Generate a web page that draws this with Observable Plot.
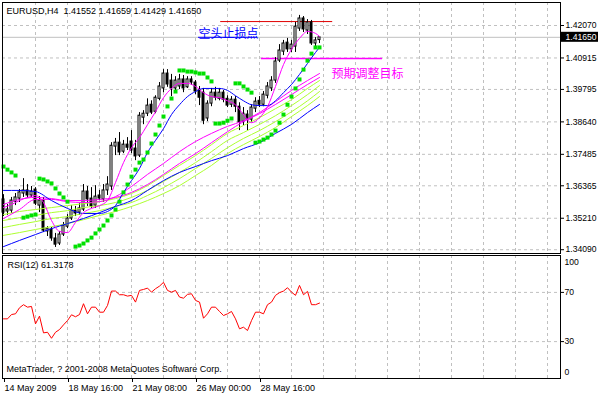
<!DOCTYPE html>
<html><head><meta charset="utf-8">
<script src="https://cdn.jsdelivr.net/npm/d3@7"></script>
<script src="https://cdn.jsdelivr.net/npm/@observablehq/plot@0.6"></script>
<style>
html,body{margin:0;padding:0;background:#fff;}
#wrap{width:598px;height:395px;overflow:hidden;background:#fff;}
#wrap svg{display:block;}
</style></head><body><div id="wrap"></div>
<script>
// ---------- data ----------
const header = "EURUSD,H4\u00a0\u00a01.41552 1.41659 1.41429 1.41650";
const rsiLabel = "RSI(12) 61.3178";
const copyright = "MetaTrader, ? 2001-2008 MetaQuotes Software Corp.";

const barOpen = [1.3588,1.3545,1.3548,1.3580,1.3591,1.3609,1.3620,1.3602,1.3623,1.3566,
1.3584,1.3474,1.3481,1.3449,1.3431,1.3463,1.3491,1.3520,1.3548,1.3541,
1.3552,1.3616,1.3591,1.3566,1.3602,1.3588,1.3620,1.3634,1.3776,1.3790,
1.3758,1.3783,1.3794,1.3769,1.3744,1.3879,1.3893,1.3925,1.3900,1.3946,
1.3983,1.4036,1.4011,1.3983,1.3990,1.4015,1.3987,1.4015,1.4004,1.3976,
1.3968,1.3876,1.3929,1.3968,1.3946,1.3968,1.3946,1.3925,1.3943,1.3918,
1.3865,1.3890,1.3872,1.3911,1.3939,1.3925,1.3957,1.3983,1.4011,1.4082,
1.4114,1.4146,1.4122,1.4132,1.4196,1.4232,1.4189,1.4218,1.4143,1.41552];
const barHigh = [1.3605,1.3570,1.3595,1.3609,1.3623,1.3662,1.3641,1.3634,1.3630,1.3598,
1.3595,1.3491,1.3488,1.3467,1.3474,1.3506,1.3534,1.3566,1.3563,1.3573,
1.3641,1.3634,1.3630,1.3637,1.3620,1.3641,1.3669,1.3790,1.3805,1.3826,
1.3798,1.3808,1.3833,1.3798,1.3897,1.3904,1.3946,1.3939,1.3957,1.4004,
1.4050,1.4050,1.4033,1.4025,1.4033,1.4029,1.4025,1.4025,1.4011,1.3990,
1.3983,1.3939,1.3983,1.3987,1.3983,1.3976,1.3957,1.3954,1.3954,1.3932,
1.3915,1.3904,1.3925,1.3950,1.3954,1.3972,1.4004,1.4025,1.4093,1.4139,
1.4154,1.4161,1.4154,1.4218,1.4243,1.4239,1.4228,1.4225,1.4164,1.41659];
const barLow = [1.3527,1.3531,1.3538,1.3566,1.3577,1.3595,1.3591,1.3595,1.3566,1.3541,
1.3470,1.3456,1.3439,1.3417,1.3424,1.3456,1.3484,1.3513,1.3527,1.3531,
1.3545,1.3563,1.3556,1.3556,1.3584,1.3577,1.3602,1.3620,1.3744,1.3744,
1.3751,1.3762,1.3751,1.3726,1.3737,1.3854,1.3883,1.3890,1.3893,1.3939,
1.3968,1.3987,1.3954,1.3972,1.3979,1.3968,1.3983,1.3994,1.3961,1.3922,
1.3854,1.3865,1.3918,1.3939,1.3939,1.3932,1.3915,1.3915,1.3897,1.3833,
1.3851,1.3833,1.3861,1.3897,1.3915,1.3918,1.3946,1.3972,1.4001,1.4075,
1.4100,1.4111,1.4111,1.4111,1.4186,1.4182,1.4175,1.4136,1.4132,1.41429];
const barClose = [1.3541,1.3552,1.3584,1.3595,1.3613,1.3620,1.3602,1.3616,1.3573,1.3584,
1.3477,1.3484,1.3449,1.3427,1.3463,1.3495,1.3520,1.3548,1.3538,1.3556,
1.3616,1.3588,1.3563,1.3598,1.3591,1.3620,1.3641,1.3779,1.3790,1.3755,
1.3783,1.3772,1.3762,1.3741,1.3886,1.3893,1.3922,1.3897,1.3950,1.3990,
1.4036,1.3997,1.3983,1.4011,1.4015,1.3983,1.4015,1.4004,1.3972,1.3950,
1.3868,1.3929,1.3968,1.3950,1.3968,1.3943,1.3922,1.3943,1.3918,1.3861,
1.3893,1.3872,1.3915,1.3936,1.3925,1.3961,1.3990,1.4011,1.4079,1.4118,
1.4143,1.4122,1.4139,1.4203,1.4232,1.4193,1.4218,1.4143,1.4154,1.41650];

// moving averages, sampled at bar indices
const fastMagBars = [0,2,4,6,8,10,12,14,16,18,20,22,24,26,28,30,32,34,36,38,40,42,44,46,48,50,52,54,56,58,60,62,64,66,68,70,72,74,76,78,79];
const fastMag = [1.3559,1.3570,1.3584,1.3595,1.3602,1.3577,1.3513,1.3474,1.3470,1.3506,1.3541,1.3556,1.3566,1.3584,1.3648,1.3719,1.3772,1.3808,1.3854,1.3900,1.3950,1.3983,1.4001,1.4001,1.3990,1.3968,1.3954,1.3950,1.3939,1.3925,1.3890,1.3861,1.3879,1.3918,1.3990,1.4068,1.4122,1.4161,1.4186,1.4179,1.4168];
const blueMedBars = [0,4,8,12,16,20,24,26,28,30,32,34,36,38,40,42,44,46,48,50,52,54,56,58,60,62,64,66,68,70,72,74,76,78,79];
const blueMed = [1.3620,1.3620,1.3616,1.3584,1.3556,1.3538,1.3538,1.3545,1.3566,1.3613,1.3655,1.3698,1.3755,1.3798,1.3840,1.3890,1.3925,1.3954,1.3972,1.3983,1.3983,1.3983,1.3976,1.3957,1.3939,1.3925,1.3922,1.3922,1.3939,1.3968,1.3997,1.4033,1.4072,1.4111,1.4129];
const maBars = [0,4,8,12,16,20,24,28,32,36,40,44,48,52,56,60,64,68,72,76,79];
const midMag = [1.3520,1.3552,1.3588,1.3588,1.3580,1.3577,1.3580,1.3598,1.3634,1.3677,1.3716,1.3758,1.3794,1.3823,1.3848,1.3868,1.3897,1.3936,1.3976,1.4011,1.4036];
const slowMag = [1.3570,1.3588,1.3595,1.3591,1.3584,1.3584,1.3588,1.3595,1.3613,1.3641,1.3677,1.3716,1.3751,1.3790,1.3829,1.3865,1.3893,1.3926,1.3961,1.3997,1.4022];
const yellow1 = [1.3534,1.3545,1.3552,1.3559,1.3566,1.3573,1.3580,1.3591,1.3609,1.3637,1.3673,1.3709,1.3744,1.3783,1.3823,1.3851,1.3879,1.3911,1.3943,1.3983,1.4011];
const yellow2 = [1.3513,1.3523,1.3531,1.3541,1.3548,1.3559,1.3566,1.3577,1.3595,1.3620,1.3652,1.3684,1.3719,1.3758,1.3798,1.3826,1.3855,1.3886,1.3922,1.3961,1.3993];
const yellow3 = [1.3488,1.3499,1.3509,1.3520,1.3527,1.3538,1.3548,1.3563,1.3577,1.3602,1.3630,1.3662,1.3698,1.3734,1.3772,1.3805,1.3833,1.3865,1.3900,1.3939,1.3972];
const yellow4 = [1.3460,1.3470,1.3481,1.3491,1.3502,1.3516,1.3531,1.3545,1.3563,1.3584,1.3609,1.3637,1.3673,1.3709,1.3751,1.3783,1.3812,1.3844,1.3883,1.3922,1.3954];
const slowBlue = [1.3420,1.3442,1.3463,1.3484,1.3502,1.3520,1.3541,1.3563,1.3584,1.3620,1.3655,1.3684,1.3705,1.3726,1.3744,1.3769,1.3790,1.3823,1.3855,1.3897,1.3926];

// parabolic SAR
const sarBars = [0,1,2,3,5,6,7,8,9,10,11,12,13,14,15,16,
18,19,20,21,22,23,24,25,26,27,28,29,30,31,32,33,34,35,36,37,38,39,40,41,42,43,
44,45,46,47,48,49,50,51,52,53,54,55,56,57,58,59,60,61,62,
63,64,65,66,67,68,69,70,71,72,73,74,75,76,77,78,79];
const sarValues = [1.3705,1.3694,1.3684,1.3673,1.3523,1.3527,1.3531,1.3534,1.3662,1.3659,1.3652,1.3645,1.3627,1.3609,1.3595,1.3580,
1.3420,1.3424,1.3431,1.3442,1.3452,1.3467,1.3481,1.3495,1.3513,1.3531,1.3552,1.3580,1.3613,1.3641,1.3669,1.3694,1.3719,1.3730,1.3755,1.3787,1.3819,1.3851,1.3883,1.3919,1.3947,1.3972,
1.4047,1.4047,1.4043,1.4043,1.4040,1.4036,1.4036,1.4022,1.4008,1.3858,1.3858,1.3861,1.3868,1.3876,1.4001,1.4001,1.3990,1.3979,1.3968,
1.3790,1.3794,1.3801,1.3808,1.3819,1.3833,1.3861,1.3890,1.3925,1.3954,1.3983,1.4015,1.4050,1.4082,1.4107,1.4129,1.4129];

// RSI(12)
const rsi = [48.5,48.5,52.0,52.6,57.5,60.0,58.0,58.6,44.4,50.7,
37.1,37.6,32.7,37.6,39.8,43.6,47.1,51.8,50.2,52.0,
60.8,52.6,58.0,58.0,53.9,53.9,59.4,71.1,71.1,68.1,
68.1,67.0,67.6,62.1,71.6,72.4,73.5,70.2,73.0,75.1,
78.2,71.6,70.2,71.6,66.2,65.3,68.4,68.9,63.5,62.1,
49.0,52.6,58.0,58.0,54.5,51.2,52.6,54.5,48.5,40.4,
41.7,39.0,47.1,53.9,53.9,52.6,60.0,62.1,67.6,69.8,
71.1,73.8,70.2,67.6,75.7,68.1,70.8,60.0,60.0,61.3178];

// chart objects
const levelPrices = [1.4221, 1.4090];
const levelFrom = [54.3, 64.5];
const levelTo = [82.3, 94.75];
const levelColors = ["#e00000", "#ff00ff"];
const levelWidths = [1, 1.5];
const noteTexts = ["空头止损点", "预期调整目标"];
const noteBars = [48.75, 82];
const notePrices = [1.4177, 1.4033];
const noteColors = ["#0000ff", "#ff00ff"];

// axis ticks
const priceTicks = [1.42070,1.40915,1.39795,1.38640,1.37485,1.36365,1.35210,1.34090];
const lastClose = 1.41650;
const rsiLevels = [70, 30];
const timeTickBars = [0,16,32,48,64];
const timeTickLabels = ["14 May 2009","18 May 16:00","21 May 08:00","26 May 00:00","28 May 16:00"];

// ---------- build ----------
const xDomain = [-0.25, 139.25];
const yDomain = [1.33955, 1.42889];
const vGrid = d3.range(8, 139, 8);
const font = "'Liberation Sans', Arial, sans-serif";
const axisFont = 8.6;
const gridStyle = {stroke:"#c0c0c0", strokeOpacity:1, strokeDasharray:"3,3"};

const candles = barOpen.map((o,i)=>({i, o, h:barHigh[i], l:barLow[i], c:barClose[i]}));
const series = (bars, vals) => bars.map((b,k)=>({bar:b, v:vals[k]}));
const levels = levelPrices.map((p,k)=>({p, from:levelFrom[k], to:levelTo[k], color:levelColors[k], w:levelWidths[k]}));
const notes = noteTexts.map((t,k)=>({t, bar:noteBars[k], p:notePrices[k], color:noteColors[k]}));
const underline = [{p:lastClose, from:noteBars[0], to:noteBars[0]+14.75, color:noteColors[0]}];

const pxPerBar = 558 / (xDomain[1]-xDomain[0]);
const pxPerPrice = 251 / (yDomain[1]-yDomain[0]);
const boxHalf = 5 / pxPerPrice;
const boxBars = 38 / pxPerBar;

const lineOpts = (stroke) => ({x:"bar", y:"v", stroke, strokeWidth:1, curve:"monotone-x"});

const main = Plot.plot({
  width:598, height:254,
  marginLeft:2, marginRight:38, marginTop:2, marginBottom:1,
  x:{domain:xDomain, axis:null},
  y:{domain:yDomain, axis:null, label:null},
  color:{type:"identity"},
  style:{fontFamily:font, fontSize:"9px", background:"white", color:"black", overflow:"visible"},
  marks:[
    Plot.gridX(vGrid, gridStyle),
    Plot.gridY(priceTicks, gridStyle),
    Plot.ruleY([lastClose], {stroke:"#c0c0c0"}),
    Plot.ruleY(levels, {y:"p", x1:"from", x2:"to", stroke:"color", strokeWidth:"w"}),
    Plot.ruleY(underline, {y:"p", x1:"from", x2:"to", stroke:"color"}),
    Plot.ruleX(candles, {x:"i", y1:"l", y2:"h", stroke:"black"}),
    Plot.rect(candles, {x1:d=>d.i-0.25, x2:d=>d.i+0.25, y1:"o", y2:d=>d.c===d.o?d.c+0.00005:d.c,
      fill:d=>d.c>=d.o?"white":"black", stroke:"black", strokeWidth:1}),
    Plot.line(series(maBars, yellow4), lineOpts("#adff2f")),
    Plot.line(series(maBars, yellow3), lineOpts("#adff2f")),
    Plot.line(series(maBars, yellow2), lineOpts("#adff2f")),
    Plot.line(series(maBars, yellow1), lineOpts("#adff2f")),
    Plot.line(series(maBars, slowBlue), lineOpts("#0000ff")),
    Plot.line(series(maBars, slowMag), lineOpts("#ff00ff")),
    Plot.line(series(maBars, midMag), lineOpts("#ff00ff")),
    Plot.line(series(blueMedBars, blueMed), lineOpts("#0000ff")),
    Plot.line(series(fastMagBars, fastMag), lineOpts("#ff00ff")),
    Plot.dot(series(sarBars, sarValues), {x:"bar", y:"v", symbol:"square", r:2.25, fill:"#00e000"}),
    Plot.text(notes, {x:"bar", y:"p", text:"t", fill:"color", textAnchor:"start", lineAnchor:"middle",
      fontFamily:"'Noto Sans CJK SC', sans-serif", fontSize:12}),
    Plot.text([header], {text:d=>d, frameAnchor:"top-left", dx:4, dy:9, textAnchor:"start", lineAnchor:"middle", fill:"black"}),
    Plot.frame({stroke:"black"}),
    Plot.axisY(priceTicks, {anchor:"right", tickSize:3, tickPadding:2, label:null, tickFormat:d=>d.toFixed(5), fontSize:axisFont}),
    Plot.rect([lastClose], {x1:xDomain[1], x2:xDomain[1]+boxBars, y1:d=>d-boxHalf, y2:d=>d+boxHalf, fill:"black"}),
    Plot.text([lastClose], {x:xDomain[1], y:d=>d, text:d=>d.toFixed(5), dx:5, textAnchor:"start", fill:"white", fontSize:axisFont})
  ]
});

const rsiChart = Plot.plot({
  width:598, height:141,
  marginLeft:2, marginRight:38, marginTop:1, marginBottom:17,
  x:{domain:xDomain, axis:null},
  y:{domain:[0,100], axis:null, label:null},
  style:{fontFamily:font, fontSize:"9px", background:"white", color:"black", overflow:"visible"},
  marks:[
    Plot.gridX(vGrid, gridStyle),
    Plot.gridY(rsiLevels, gridStyle),
    Plot.line(rsi.map((v,i)=>({i,v})), {x:"i", y:"v", stroke:"#ff0000", strokeWidth:1}),
    Plot.frame({stroke:"black"}),
    Plot.axisY(rsiLevels, {anchor:"right", tickSize:3, tickPadding:1, label:null, fontSize:axisFont}),
    Plot.axisY([100], {anchor:"right", tickSize:0, tickPadding:4, dy:7, label:null, fontSize:axisFont}),
    Plot.axisY([0], {anchor:"right", tickSize:0, tickPadding:4, dy:-6, label:null, fontSize:axisFont}),
    Plot.axisX(timeTickBars, {anchor:"bottom", tickSize:4, tickPadding:2, label:null,
      tickFormat:d=>timeTickLabels[timeTickBars.indexOf(d)], textAnchor:"start", dx:1}),
    Plot.text([rsiLabel], {text:d=>d, frameAnchor:"top-left", dx:5, dy:10, textAnchor:"start", lineAnchor:"middle", fill:"black"}),
    Plot.text([copyright], {text:d=>d, frameAnchor:"bottom-left", dx:4, dy:-9, textAnchor:"start", lineAnchor:"middle", fill:"black"})
  ]
});

const wrap = document.getElementById("wrap");
wrap.appendChild(main);
wrap.appendChild(rsiChart);
</script>
</body></html>
